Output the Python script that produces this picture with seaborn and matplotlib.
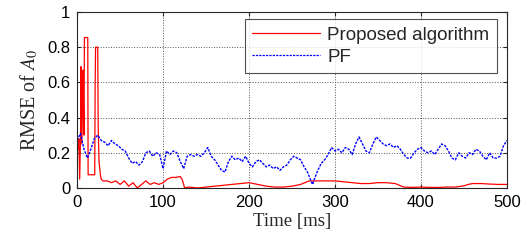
import numpy as np
import pandas as pd
import matplotlib
matplotlib.use("Agg")
import matplotlib.pyplot as plt
import seaborn as sns

# Proposed algorithm (red) - RMSE of A0 vs time [ms]
t_prop = [0, 1, 2, 3, 4, 4.5, 5.5, 7, 7.5, 8, 8.5, 12.4, 12.8, 20.5, 21, 21.5, 24, 24.5,
          25.5, 27, 28, 30, 35, 40, 45, 50, 55, 60, 65, 70, 75, 80, 85, 90, 95, 100,
          105, 110, 115, 120, 122, 124, 125, 130, 140, 150, 160, 170, 180, 190, 200,
          210, 220, 230, 240, 250, 260, 270, 280, 290, 300, 310, 320, 330, 340, 350,
          360, 370, 375, 380, 390, 400, 410, 420, 430, 440, 450, 455, 460, 470, 480,
          490, 500]
rmse_prop = [0.27, 0.22, 0.28, 0.05, 0.30, 0.69, 0.25, 0.67, 0.45, 0.30, 0.855, 0.855,
             0.075, 0.075, 0.60, 0.80, 0.80, 0.35, 0.15, 0.08, 0.05, 0.04, 0.04, 0.03,
             0.04, 0.02, 0.04, 0.01, 0.03, 0.00, 0.02, 0.04, 0.02, 0.03, 0.02, 0.03,
             0.05, 0.06, 0.06, 0.065, 0.05, 0.02, 0.0, 0.005, 0.0, 0.005, 0.01, 0.015,
             0.02, 0.025, 0.03, 0.02, 0.01, 0.005, 0.005, 0.01, 0.02, 0.04, 0.04, 0.04,
             0.04, 0.035, 0.03, 0.025, 0.025, 0.03, 0.03, 0.025, 0.015, 0.005, 0.003,
             0.005, 0.003, 0.003, 0.005, 0.005, 0.012, 0.02, 0.025, 0.025, 0.022,
             0.02, 0.02]

# PF (blue dashed)
t_pf = [0, 4, 8, 12, 16, 20, 24, 28, 32, 36, 40, 44, 48, 52, 56, 60, 64, 68, 72, 76,
        80, 84, 88, 92, 96, 100, 104, 108, 112, 116, 120, 124, 128, 132, 136, 140,
        144, 148, 152, 156, 160, 164, 168, 172, 176, 180, 184, 188, 192, 196, 200,
        204, 208, 212, 216, 220, 224, 228, 232, 236, 240, 244, 248, 252, 256, 260,
        264, 268, 272, 274, 276, 280, 284, 288, 292, 296, 300, 304, 308, 312, 316,
        320, 324, 328, 332, 336, 340, 344, 348, 352, 356, 360, 364, 368, 372, 376,
        380, 384, 388, 392, 396, 400, 404, 408, 412, 416, 420, 424, 428, 432, 436,
        440, 444, 448, 452, 456, 460, 464, 468, 472, 476, 480, 484, 488, 492, 496, 500]
rmse_pf = [0.27, 0.31, 0.22, 0.17, 0.22, 0.28, 0.30, 0.27, 0.26, 0.24, 0.27, 0.25,
           0.24, 0.22, 0.21, 0.17, 0.14, 0.15, 0.13, 0.15, 0.20, 0.21, 0.18, 0.20,
           0.19, 0.11, 0.21, 0.19, 0.21, 0.20, 0.15, 0.11, 0.18, 0.19, 0.18, 0.19,
           0.18, 0.20, 0.23, 0.18, 0.16, 0.13, 0.10, 0.09, 0.15, 0.18, 0.16, 0.17,
           0.15, 0.18, 0.14, 0.12, 0.15, 0.16, 0.14, 0.12, 0.13, 0.11, 0.12, 0.10,
           0.12, 0.13, 0.16, 0.18, 0.17, 0.16, 0.12, 0.09, 0.04, 0.02, 0.05, 0.10,
           0.14, 0.16, 0.19, 0.23, 0.21, 0.22, 0.20, 0.23, 0.22, 0.19, 0.25, 0.29,
           0.25, 0.21, 0.20, 0.25, 0.29, 0.27, 0.25, 0.24, 0.25, 0.23, 0.24, 0.22,
           0.19, 0.17, 0.17, 0.20, 0.22, 0.23, 0.21, 0.20, 0.21, 0.19, 0.22, 0.25,
           0.24, 0.21, 0.17, 0.16, 0.20, 0.18, 0.17, 0.20, 0.19, 0.22, 0.21, 0.18,
           0.16, 0.20, 0.17, 0.17, 0.18, 0.24, 0.27]

x_ticks = [0, 100, 200, 300, 400, 500]
y_ticks = [0, 0.2, 0.4, 0.6, 0.8, 1]
y_tick_labels = ["0", "0.2", "0.4", "0.6", "0.8", "1"]

sns.set_style("ticks")
plt.rcParams['font.family'] = ['Liberation Sans', 'DejaVu Sans']
plt.rcParams['mathtext.fontset'] = 'stix'

fig = plt.figure(figsize=(5.21, 2.46), dpi=100)
ax = fig.add_axes([0.148, 0.236, 0.825, 0.715])

df_prop = pd.DataFrame({'t': t_prop, 'rmse': rmse_prop})
df_pf = pd.DataFrame({'t': t_pf, 'rmse': rmse_pf})

sns.lineplot(data=df_prop, x='t', y='rmse', ax=ax, color='#ff0000', lw=0.9,
             estimator=None, sort=False, label='Proposed algorithm')
sns.lineplot(data=df_pf, x='t', y='rmse', ax=ax, color='#0000ff', lw=1.0,
             estimator=None, label='PF', dashes=False)
ax.lines[1].set_dashes([1.8, 0.9])

ax.set_xlim(0, 500)
ax.set_ylim(0, 1)
ax.set_xticks(x_ticks)
ax.set_yticks(y_ticks)
ax.set_yticklabels(y_tick_labels)
ax.tick_params(labelsize=12, direction='in', length=3, top=True, right=True,
               colors='#262626', labelcolor='black', pad=5)
ax.grid(True, linestyle=':', color='#555555', linewidth=0.7)
for s in ax.spines.values():
    s.set_color('#262626')
    s.set_linewidth(0.8)

ax.set_xlabel('Time [ms]', family='Liberation Serif', fontsize=13.5, labelpad=2)
ax.set_ylabel('RMSE of $A_0$', family='Liberation Serif', fontsize=14.5, labelpad=5)

leg = ax.legend(loc='upper right', bbox_to_anchor=(0.977, 0.96), fontsize=13.5,
                frameon=True, fancybox=False, edgecolor='#262626',
                handlelength=3.6, borderpad=0.4, labelspacing=0.25,
                handletextpad=0.4, borderaxespad=0.0)
leg.get_frame().set_linewidth(0.8)
for h in leg.get_lines():
    h.set_linewidth(0.9)

fig.savefig('out.png', dpi=100)
